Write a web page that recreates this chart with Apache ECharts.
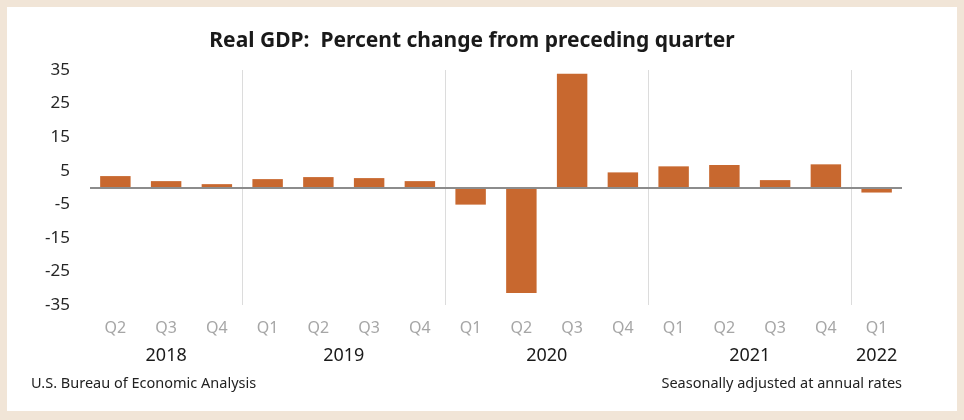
<!DOCTYPE html>
<html>
<head>
<meta charset="utf-8">
<title>Real GDP</title>
<script src="https://cdn.jsdelivr.net/npm/echarts@6/dist/echarts.min.js"></script>
<style>
  html, body { margin: 0; padding: 0; }
  body { width: 964px; height: 420px; background: #f1e5d7; position: relative; overflow: hidden; }
  #panel { position: absolute; left: 7px; top: 7px; width: 950px; height: 404px; background: #fff; }
  #chart { position: absolute; left: 0; top: 0; width: 964px; height: 420px; }
</style>
</head>
<body>
<div id="panel"></div>
<div id="chart"></div>
<script>
// data
const quarters = ['Q2', 'Q3', 'Q4', 'Q1', 'Q2', 'Q3', 'Q4', 'Q1', 'Q2', 'Q3', 'Q4', 'Q1', 'Q2', 'Q3', 'Q4', 'Q1']
const quarterYears = [2018, 2018, 2018, 2019, 2019, 2019, 2019, 2020, 2020, 2020, 2020, 2021, 2021, 2021, 2021, 2022]
const gdpChange = [3.4, 1.9, 1.0, 2.5, 3.1, 2.8, 1.9, -5.1, -31.4, 33.9, 4.5, 6.3, 6.7, 2.2, 6.9, -1.5]
const yTicks = [35, 25, 15, 5, -5, -15, -25, -35]

// group quarters by year: label in the middle, divider at the start
const years = []
const yearSpans = []
quarterYears.forEach((y, i) => {
  const k = years.indexOf(y)
  if (k < 0) {
    years.push(y)
    yearSpans.push({ start: i, end: i + 1 })
  } else {
    yearSpans[k].end = i + 1
  }
})
const yearPos = yearSpans.map(s => (s.start + s.end) / 2)
const yearStarts = yearSpans.map(s => s.start).filter(s => s > 0)

const font = '"Noto Sans", "DejaVu Sans", sans-serif'
const chart = echarts.init(document.getElementById('chart'))

chart.setOption({
  animation: false,
  textStyle: { fontFamily: font },
  title: [
    {
      text: 'Real GDP:  Percent change from preceding quarter',
      left: 472,
      textAlign: 'center',
      top: 31,
      padding: 0,
      textStyle: { fontSize: 21, fontWeight: 'bold', color: '#1a1a1a', fontFamily: font }
    },
    {
      text: 'U.S. Bureau of Economic Analysis',
      left: 31,
      top: 376,
      padding: 0,
      textStyle: { fontSize: 14.5, fontWeight: 'normal', color: '#222', fontFamily: font }
    },
    {
      text: 'Seasonally adjusted at annual rates',
      right: 62,
      top: 376,
      padding: 0,
      textStyle: { fontSize: 14.5, fontWeight: 'normal', color: '#222', fontFamily: font }
    }
  ],
  grid: {
    left: 90,
    right: 62,
    top: 70,
    bottom: 115
  },
  xAxis: [
    {
      type: 'category',
      data: quarters,
      axisLine: { show: false, onZero: false },
      axisTick: { show: false },
      axisLabel: { color: '#a6a6a6', fontSize: 16, margin: 15, interval: 0 },
      splitLine: { show: false }
    },
    {
      type: 'value',
      position: 'bottom',
      min: 0,
      max: quarters.length,
      axisLine: { show: false, onZero: false },
      // faint dividers between years, run the full plot height
      axisTick: {
        show: true,
        inside: true,
        length: 235,
        customValues: yearStarts,
        lineStyle: { color: '#dcdcdc', width: 1 }
      },
      splitLine: { show: false },
      axisLabel: {
        customValues: yearPos,
        color: '#1a1a1a',
        fontSize: 18,
        margin: 42,
        formatter: (v) => {
          const k = yearPos.indexOf(v)
          return k < 0 ? '' : String(years[k])
        }
      }
    }
  ],
  yAxis: {
    type: 'value',
    min: -35,
    max: 35,
    interval: 5,
    axisLine: { show: false },
    axisTick: { show: false },
    splitLine: { show: false },
    axisLabel: {
      color: '#262626',
      fontSize: 17,
      margin: 20,
      formatter: (v) => (yTicks.indexOf(v) >= 0 ? String(v) : '')
    }
  },
  series: [
    {
      type: 'bar',
      data: gdpChange,
      barCategoryGap: '40%',
      itemStyle: { color: '#c8682f' },
      markLine: {
        silent: true,
        symbol: 'none',
        label: { show: false },
        lineStyle: { color: '#8c8c8c', width: 2, type: 'solid' },
        data: [{ yAxis: 0 }]
      }
    }
  ]
})
</script>
</body>
</html>
